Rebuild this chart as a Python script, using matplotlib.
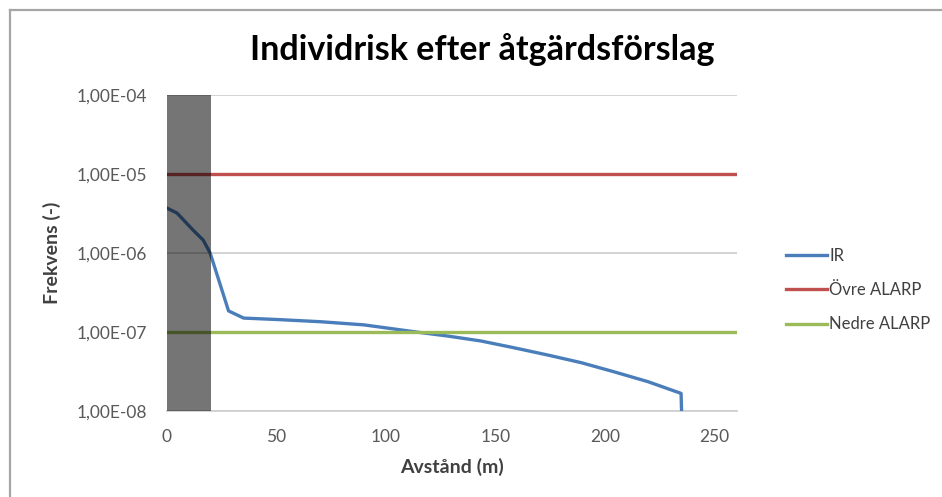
import matplotlib
matplotlib.use("Agg")
import matplotlib.pyplot as plt
from matplotlib.patches import Rectangle
from matplotlib.ticker import FixedLocator, FixedFormatter

plt.rcParams['font.family'] = ['Lato', 'DejaVu Sans']

# Data
ir_x = [0, 4.6, 11.9, 16.5, 19.7, 28.1, 35, 50, 70, 90, 112.6, 128, 143.3, 158.6, 174,
        189.1, 204, 219.6, 234.7, 235.9]
ir_y = [3.7e-6, 3.2e-6, 1.95e-6, 1.46e-6, 1.0e-6, 1.85e-7, 1.5e-7, 1.44e-7, 1.35e-7, 1.23e-7,
        1.01e-7, 8.9e-8, 7.7e-8, 6.3e-8, 5.1e-8, 4.09e-8, 3.14e-8, 2.35e-8, 1.67e-8, 1e-9]
alarp_x = [0, 260]
ovre_y = [1e-5, 1e-5]
nedre_y = [1e-7, 1e-7]
zone_x = [0, 20]

yticks = [1e-8, 1e-7, 1e-6, 1e-5, 1e-4]
ytick_labels = ["1,00E-08", "1,00E-07", "1,00E-06", "1,00E-05", "1,00E-04"]
xticks = [0, 50, 100, 150, 200, 250]

W, H = 942, 497
fig = plt.figure(figsize=(W / 100, H / 100), dpi=100)
ax = fig.add_axes([167 / W, 1 - 411 / H, (736.5 - 167) / W, (411 - 95) / H])

ax.set_yscale('log')
ax.set_ylim(1e-8, 1e-4)
ax.set_xlim(0, 260)

for yv in yticks:
    ax.axhline(yv, color='#d0d0d0', lw=1.3, zorder=1)

l1, = ax.plot(ir_x, ir_y, color='#4a7ebb', lw=2.4, label='IR', zorder=3)
l2, = ax.plot(alarp_x, ovre_y, color='#c0504d', lw=2.4, label='Övre ALARP', zorder=3)
l3, = ax.plot(alarp_x, nedre_y, color='#9bbb59', lw=2.4, label='Nedre ALARP', zorder=3)

ax.add_patch(Rectangle((zone_x[0], 1e-8), zone_x[1] - zone_x[0], 1e-4 - 1e-8,
                       facecolor='black', alpha=0.54, edgecolor='none', zorder=4))

ax.yaxis.set_major_locator(FixedLocator(yticks))
ax.yaxis.set_major_formatter(FixedFormatter(ytick_labels))
ax.yaxis.set_minor_locator(FixedLocator([]))
ax.set_xticks(xticks)
ax.tick_params(axis='both', length=0, labelsize=12.5, colors='#595959')
ax.tick_params(axis='y', pad=14.5)
ax.tick_params(axis='x', pad=13)

for s in ['top', 'right', 'left']:
    ax.spines[s].set_visible(False)
ax.spines['bottom'].set_color('#d0d0d0')
ax.spines['bottom'].set_linewidth(1.3)

ax.set_xlabel('Avstånd (m)', fontsize=14, fontweight='bold', color='#404040', labelpad=9)
ax.set_ylabel('Frekvens (-)', fontsize=14, fontweight='bold', color='#404040', labelpad=11)

fig.text(482 / W, 1 - 50 / H, 'Individrisk efter åtgärdsförslag', ha='center', va='center',
         fontsize=24.5, fontweight='bold', color='black')

leg = fig.legend(handles=[l1, l2, l3], loc='center left', bbox_to_anchor=(774 / W, 1 - 290 / H),
                 frameon=False, fontsize=12, handlelength=2.5, handletextpad=0.1,
                 labelspacing=1.1, labelcolor='#404040', borderpad=0.2)

# outer frame lines (top and left)
fig.add_artist(plt.Line2D([10 / W, 1], [1 - 10 / H, 1 - 10 / H], color='#a6a6a6', lw=1.6,
                          transform=fig.transFigure))
fig.add_artist(plt.Line2D([10 / W, 10 / W], [0, 1 - 10 / H], color='#a6a6a6', lw=1.6,
                          transform=fig.transFigure))

fig.savefig('out.png', dpi=100)
